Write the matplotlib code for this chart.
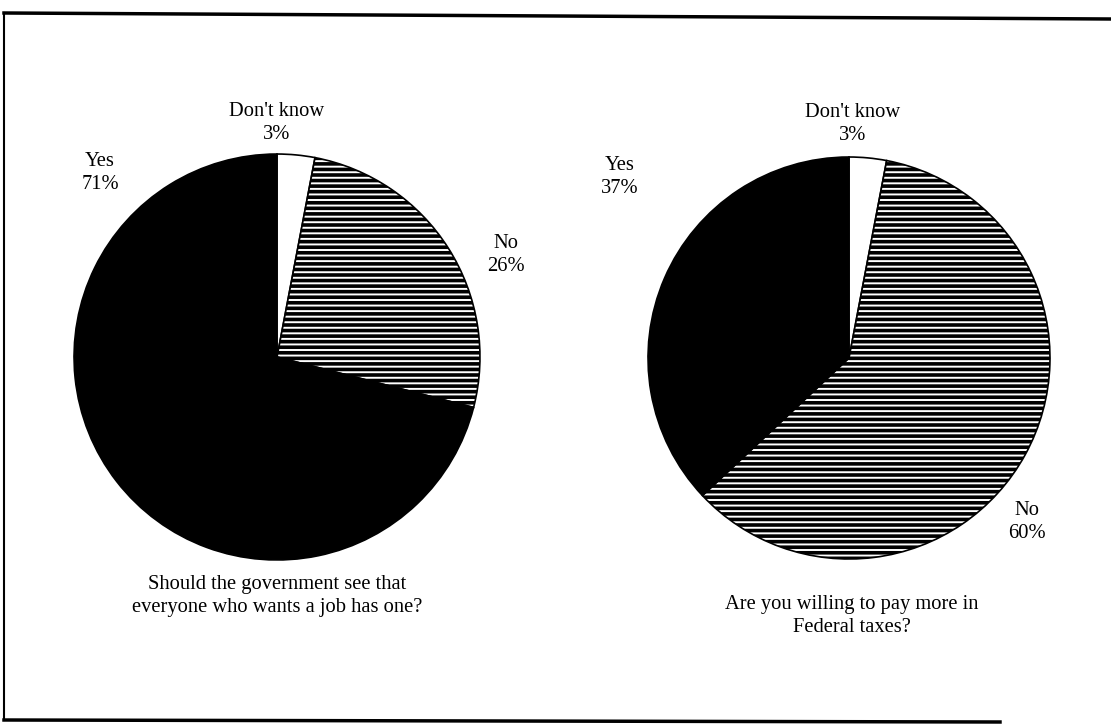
import matplotlib.pyplot as plt
import matplotlib as mpl

mpl.rcParams['hatch.linewidth'] = 2.6
mpl.rcParams['font.family'] = ['Liberation Serif', 'DejaVu Serif']

categories = ["Don't know", "No", "Yes"]
job_values = [3, 26, 71]
tax_values = [3, 60, 37]
job_title = "Should the government see that\neveryone who wants a job has one?"
tax_title = "Are you willing to pay more in\nFederal taxes?"

W, H = 1111, 726
fig = plt.figure(figsize=(W / 100, H / 100), dpi=100)

# overlay axes in pixel coordinates
ov = fig.add_axes([0, 0, 1, 1])
ov.set_xlim(0, W)
ov.set_ylim(H, 0)
ov.axis('off')
ov.plot([4, 4], [13, 720], color='black', lw=1.5)
ov.plot([4, W], [13, 19], color='black', lw=2.5)
ov.plot([4, 1000], [720, 722], color='black', lw=2.5)


def add_pie(cx, cy, r, values):
    ax = fig.add_axes([(cx - r) / W, 1 - (cy + r) / H, 2 * r / W, 2 * r / H])
    wedges, _ = ax.pie(values, startangle=90, counterclock=False,
                       colors=['white', 'white', 'black'], radius=1,
                       wedgeprops=dict(edgecolor='black', linewidth=1.2))
    wedges[1].set_hatch('---')
    ax.set_xlim(-1.01, 1.01)
    ax.set_ylim(-1.01, 1.01)
    ax.set_aspect('equal')
    ax.axis('off')


add_pie(277, 357, 205, job_values)
add_pie(849, 358, 203, tax_values)

fs = 14.8
txt = dict(fontsize=fs, ha='center', va='center', linespacing=1.35)
ov.text(277, 123, f"{categories[0]}\n{job_values[0]}%", **txt)
ov.text(100, 173, f"{categories[2]}\n{job_values[2]}%", **txt)
ov.text(506, 255, f"{categories[1]}\n{job_values[1]}%", **txt)
ov.text(277, 596, job_title, **txt)

ov.text(853, 124, f"{categories[0]}\n{tax_values[0]}%", **txt)
ov.text(620, 177, f"{categories[2]}\n{tax_values[2]}%", **txt)
ov.text(1027, 522, f"{categories[1]}\n{tax_values[1]}%", **txt)
ov.text(852, 616, tax_title, **txt)

fig.savefig('out.png', dpi=100)
